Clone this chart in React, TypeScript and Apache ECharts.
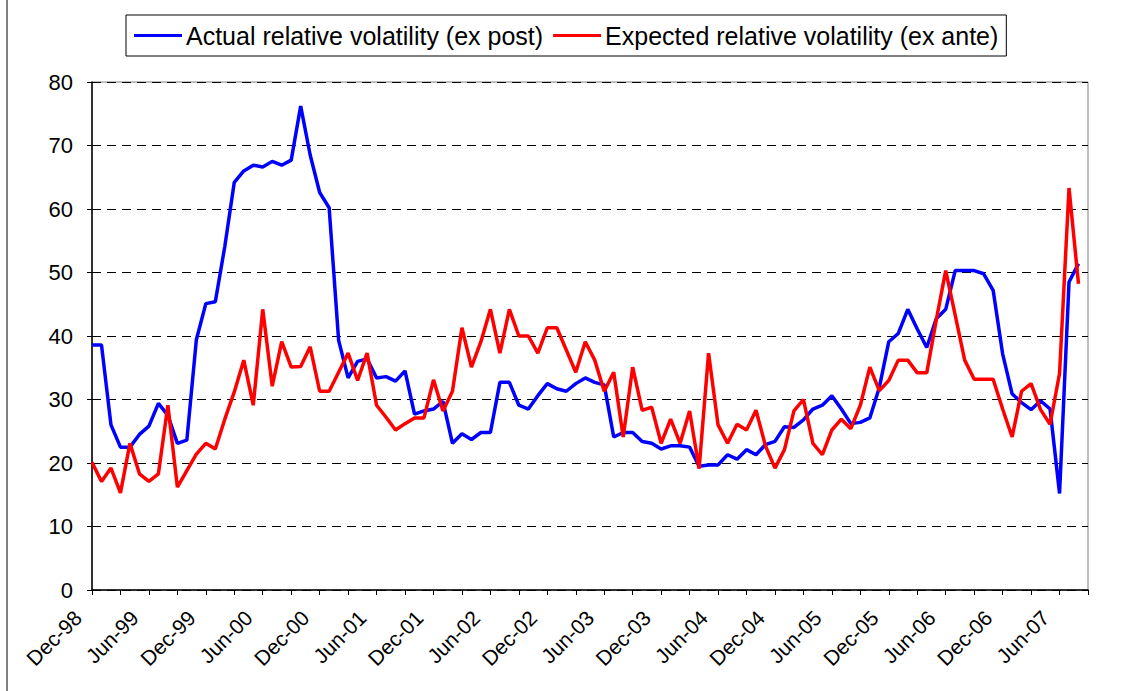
import React, { useEffect, useRef } from "react";
import * as echarts from "echarts";

const monthNames = ["Jan", "Feb", "Mar", "Apr", "May", "Jun", "Jul", "Aug", "Sep", "Oct", "Nov", "Dec"];
// Monthly categories from Dec-98 to Sep-07
const categories: string[] = [];
for (let y = 1998; y <= 2007; y++) {
  for (let m = 0; m < 12; m++) {
    if (y === 1998 && m < 11) continue;
    if (y === 2007 && m > 8) continue;
    categories.push(`${monthNames[m]}-${String(y % 100).padStart(2, "0")}`);
  }
}

const actualVol = [
  38.6, 38.6, 26.0, 22.5, 22.5, 24.5, 25.8, 29.4, 27.5, 23.1,
  23.6, 39.4, 45.1, 45.4, 54.1, 64.2, 66.0, 66.9, 66.6, 67.5,
  66.9, 67.7, 76.2, 68.5, 62.6, 60.2, 39.3, 33.4, 36.0, 36.4,
  33.4, 33.6, 32.9, 34.5, 27.7, 28.2, 28.5, 29.7, 23.1, 24.6,
  23.7, 24.8, 24.8, 32.7, 32.7, 29.1, 28.5, 30.6, 32.5, 31.7,
  31.3, 32.5, 33.4, 32.7, 32.3, 24.1, 24.8, 24.8, 23.4, 23.1,
  22.2, 22.7, 22.7, 22.5, 19.5, 19.7, 19.7, 21.3, 20.6, 22.1,
  21.3, 22.9, 23.4, 25.7, 25.6, 26.8, 28.5, 29.1, 30.6, 28.5,
  26.2, 26.4, 27.1, 31.9, 39.1, 40.4, 44.2, 41.1, 38.2, 42.7,
  44.2, 50.3, 50.3, 50.3, 49.8, 47.2, 37.2, 30.9, 29.5, 28.4,
  29.8, 28.5, 15.2, 48.5, 51.4,
];

const expectedVol = [
  20.1, 17.1, 19.2, 15.3, 23.1, 18.3, 17.1, 18.3, 29.1, 16.2,
  18.8, 21.4, 23.1, 22.2, 26.9, 31.2, 36.2, 29.1, 44.2, 32.1,
  39.1, 35.1, 35.2, 38.3, 31.3, 31.3, 34.3, 37.3, 33.0, 37.3,
  29.1, 27.2, 25.2, 26.2, 27.1, 27.1, 33.1, 28.2, 31.3, 41.3,
  35.1, 39.1, 44.2, 37.3, 44.2, 40.0, 40.0, 37.3, 41.3, 41.3,
  37.8, 34.3, 39.1, 36.2, 31.3, 34.3, 24.1, 35.1, 28.3, 28.8,
  23.1, 26.9, 23.1, 28.2, 19.1, 37.3, 26.0, 23.1, 26.1, 25.2,
  28.3, 22.7, 19.2, 22.1, 28.2, 30.0, 23.1, 21.3, 25.2, 26.9,
  25.4, 29.1, 35.1, 31.4, 33.0, 36.2, 36.2, 34.2, 34.2, 42.5,
  50.3, 43.3, 36.2, 33.2, 33.2, 33.2, 28.5, 24.1, 31.3, 32.5,
  28.4, 26.1, 34.1, 63.3, 48.2,
];

const seriesNames = [
  "Actual relative volatility (ex post)",
  "Expected relative volatility (ex ante)",
];

const FONT = "'Liberation Sans', Arial, sans-serif";

export default function App() {
  const ref = useRef<HTMLDivElement>(null);
  useEffect(() => {
    if (!ref.current) return;
    const chart = echarts.init(ref.current, null, { renderer: "svg" });
    chart.setOption({
      animation: false,
      backgroundColor: "#ffffff",
      textStyle: { fontFamily: FONT, color: "#000" },
      graphic: [
        {
          type: "rect",
          shape: { x: 7, y: -10, width: 1200, height: 720 },
          style: { fill: "none", stroke: "#000", lineWidth: 1 },
          silent: true,
        },
      ],
      legend: {
        left: 126,
        top: 15,
        orient: "horizontal",
        icon: "rect",
        itemWidth: 48,
        itemHeight: 3,
        itemGap: 10,
        padding: [8, 8, 8, 8],
        borderColor: "#000",
        borderWidth: 1,
        textStyle: { fontFamily: FONT, fontSize: 25, color: "#000", padding: [0, 0, 0, -1] },
        data: seriesNames,
      },
      grid: {
        left: 92,
        right: 44,
        top: 82,
        bottom: 101,
        show: true,
        borderColor: "#808080",
        borderWidth: 1,
        containLabel: false,
      },
      xAxis: {
        type: "category",
        data: categories,
        boundaryGap: false,
        axisLine: { show: true, lineStyle: { color: "#000", width: 1.5 } },
        axisTick: { show: true, interval: 2, length: 5, inside: false, lineStyle: { color: "#000" } },
        axisLabel: {
          interval: 5,
          rotate: 45,
          margin: 10,
          fontSize: 21,
          fontFamily: FONT,
          color: "#000",
          padding: [0, 20, 0, 0],
        },
        splitLine: { show: false },
      },
      yAxis: {
        type: "value",
        min: 0,
        max: 80,
        interval: 10,
        axisLine: { show: true, lineStyle: { color: "#000", width: 1.5 } },
        axisTick: { show: true, length: 5, lineStyle: { color: "#000" } },
        axisLabel: { fontSize: 22, fontFamily: FONT, color: "#000", margin: 19 },
        splitLine: {
          show: true,
          lineStyle: { color: "#000", width: 1, type: [9, 6] },
        },
      },
      series: [
        {
          name: seriesNames[0],
          type: "line",
          data: actualVol,
          symbol: "none",
          showSymbol: false,
          lineStyle: { color: "#0000ff", width: 3.5 },
          itemStyle: { color: "#0000ff" },
          z: 3,
        },
        {
          name: seriesNames[1],
          type: "line",
          data: expectedVol,
          symbol: "none",
          showSymbol: false,
          lineStyle: { color: "#ff0000", width: 3.5 },
          itemStyle: { color: "#ff0000" },
          z: 4,
        },
      ],
    });
    return () => chart.dispose();
  }, []);
  return (
    <div
      ref={ref}
      style={{ position: "fixed", left: 0, top: 0, width: 1132, height: 691 }}
    />
  );
}
